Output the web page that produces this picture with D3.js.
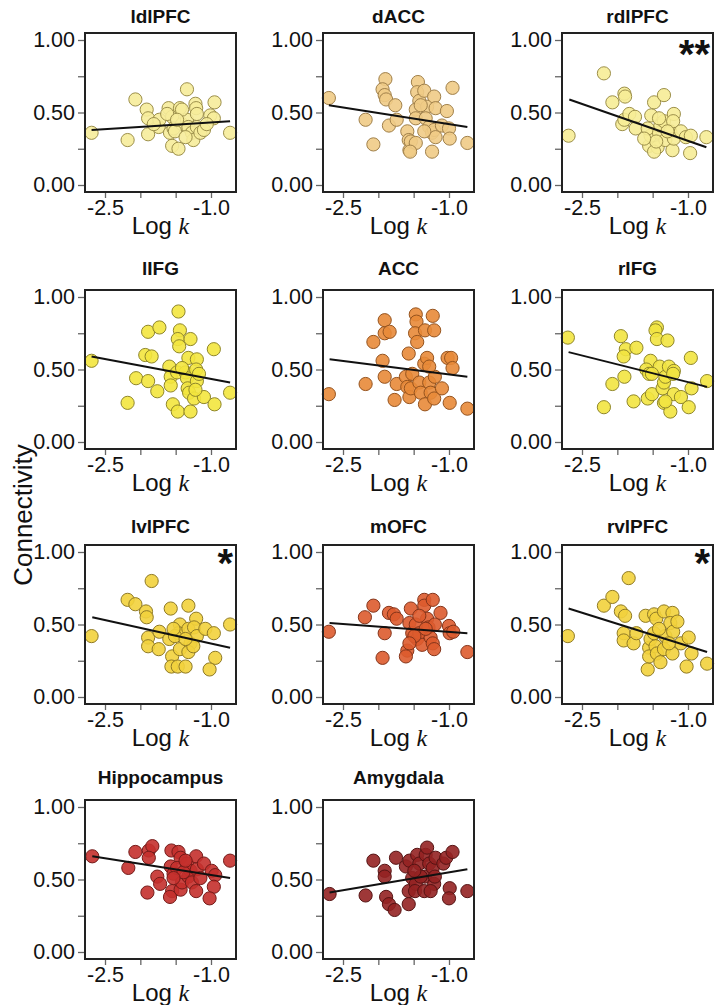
<!DOCTYPE html>
<html><head><meta charset="utf-8">
<script src="https://cdn.jsdelivr.net/npm/d3@7"></script>
<style>body{margin:0;background:#fff} svg{display:block}</style>
</head><body><svg id="c" width="717" height="1005"></svg>
<script>
// ---- data ----
const regionNames = ["ldlPFC","dACC","rdlPFC","lIFG","ACC","rIFG","lvlPFC","mOFC","rvlPFC","Hippocampus","Amygdala"];
const significance = ["","","**","","","","*","","*","",""];
const xTickValues = [-2.5,-2.0,-1.5,-1.0];
const xTickLabels = ["-2.5","","","-1.0"];
const yTickValues = [0,0.25,0.5,0.75,1];
const yTickLabels = ["0.00","","0.50","","1.00"];

const ldlPFC_x = [-2.69,-2.18,-2.07,-1.91,-1.89,-1.89,-1.74,-1.73,-1.60,-1.55,-1.58,-1.53,-1.55,-1.46,-1.44,-1.41,-1.51,-1.34,-1.34,-1.32,-1.27,-1.22,-1.21,-1.20,-1.25,-1.15,-1.10,-1.01,-0.95,-0.96,-0.73,-1.41,-1.62,-1.36,-1.81,-1.20,-1.06,-1.48];
const ldlPFC_y = [0.36,0.31,0.59,0.52,0.46,0.35,0.40,0.45,0.53,0.47,0.36,0.39,0.27,0.25,0.53,0.42,0.37,0.66,0.45,0.40,0.36,0.56,0.53,0.40,0.31,0.36,0.38,0.48,0.57,0.46,0.36,0.52,0.49,0.33,0.42,0.49,0.42,0.45];
const dACC_x = [-2.70,-2.18,-2.07,-1.90,-1.94,-1.91,-1.89,-1.76,-1.85,-1.74,-1.59,-1.57,-1.56,-1.54,-1.47,-1.44,-1.45,-1.42,-1.47,-1.47,-1.35,-1.31,-1.33,-1.28,-1.24,-1.21,-1.19,-1.24,-1.21,-1.19,-1.10,-1.03,-1.00,-0.99,-0.95,-0.74,-1.35,-1.55,-1.40];
const dACC_y = [0.60,0.45,0.28,0.73,0.66,0.62,0.59,0.55,0.41,0.45,0.37,0.31,0.24,0.30,0.29,0.71,0.64,0.58,0.52,0.46,0.65,0.54,0.46,0.40,0.36,0.61,0.53,0.23,0.38,0.33,0.41,0.51,0.39,0.32,0.67,0.29,0.37,0.23,0.55];
const rdlPFC_x = [-2.69,-2.19,-2.07,-1.90,-1.89,-1.93,-1.90,-1.83,-1.75,-1.74,-1.55,-1.53,-1.57,-1.52,-1.48,-1.43,-1.48,-1.41,-1.39,-1.34,-1.32,-1.25,-1.22,-1.20,-1.34,-1.20,-1.21,-1.10,-1.03,-0.97,-0.96,-0.74,-1.45,-1.29,-1.41,-1.62];
const rdlPFC_y = [0.34,0.77,0.57,0.63,0.61,0.42,0.45,0.49,0.47,0.39,0.27,0.34,0.39,0.48,0.57,0.26,0.23,0.36,0.41,0.44,0.31,0.37,0.24,0.32,0.62,0.49,0.44,0.37,0.33,0.22,0.34,0.33,0.30,0.37,0.46,0.32];
const lIFG_x = [-2.69,-2.18,-2.06,-1.89,-1.73,-1.93,-1.84,-1.89,-1.76,-1.59,-1.57,-1.57,-1.54,-1.46,-1.44,-1.47,-1.45,-1.48,-1.47,-1.36,-1.34,-1.33,-1.31,-1.29,-1.29,-1.32,-1.20,-1.21,-1.20,-1.24,-1.17,-1.10,-0.96,-0.95,-0.73,-1.41,-1.22];
const lIFG_y = [0.56,0.27,0.44,0.76,0.79,0.60,0.59,0.42,0.35,0.52,0.45,0.39,0.26,0.90,0.77,0.71,0.66,0.48,0.21,0.48,0.44,0.37,0.34,0.71,0.21,0.58,0.57,0.50,0.42,0.30,0.47,0.31,0.64,0.26,0.34,0.51,0.36];
const ACC_x = [-2.70,-2.18,-2.07,-1.94,-1.91,-1.91,-1.84,-1.91,-1.74,-1.77,-1.57,-1.61,-1.59,-1.56,-1.52,-1.54,-1.47,-1.46,-1.48,-1.45,-1.42,-1.40,-1.34,-1.35,-1.31,-1.28,-1.26,-1.34,-1.23,-1.21,-1.20,-1.21,-1.10,-1.02,-0.97,-0.95,-0.99,-0.74,-1.28];
const ACC_y = [0.33,0.40,0.69,0.56,0.84,0.75,0.76,0.45,0.40,0.29,0.61,0.45,0.38,0.31,0.47,0.37,0.88,0.83,0.75,0.69,0.41,0.34,0.77,0.54,0.58,0.41,0.34,0.26,0.87,0.77,0.45,0.30,0.37,0.58,0.58,0.51,0.27,0.23,0.52];
const rIFG_x = [-2.70,-2.19,-2.07,-1.95,-1.88,-1.91,-1.73,-1.90,-1.77,-1.57,-1.53,-1.59,-1.55,-1.51,-1.44,-1.46,-1.44,-1.40,-1.36,-1.34,-1.34,-1.29,-1.32,-1.27,-1.25,-1.20,-1.20,-1.10,-1.21,-0.96,-0.95,-0.99,-0.73,-1.51,-1.32];
const rIFG_y = [0.72,0.24,0.40,0.73,0.64,0.59,0.65,0.45,0.28,0.30,0.56,0.50,0.47,0.33,0.79,0.77,0.71,0.52,0.37,0.41,0.27,0.70,0.45,0.52,0.21,0.49,0.33,0.31,0.47,0.58,0.37,0.24,0.42,0.47,0.28];
const lvlPFC_x = [-2.69,-2.18,-2.07,-1.92,-1.91,-1.84,-1.89,-1.89,-1.74,-1.73,-1.57,-1.59,-1.55,-1.56,-1.47,-1.36,-1.44,-1.46,-1.44,-1.51,-1.32,-1.32,-1.29,-1.32,-1.21,-1.24,-1.20,-1.25,-1.08,-0.96,-0.94,-1.02,-0.73,-1.36,-1.53];
const lvlPFC_y = [0.42,0.67,0.64,0.59,0.55,0.80,0.41,0.35,0.33,0.45,0.61,0.40,0.28,0.21,0.21,0.21,0.50,0.44,0.33,0.42,0.63,0.47,0.37,0.31,0.54,0.48,0.42,0.35,0.47,0.44,0.27,0.19,0.50,0.40,0.47];
const mOFC_x = [-2.70,-2.19,-2.07,-1.85,-1.78,-1.74,-1.91,-1.94,-1.54,-1.56,-1.52,-1.59,-1.61,-1.47,-1.45,-1.42,-1.38,-1.35,-1.35,-1.31,-1.29,-1.26,-1.23,-1.20,-1.23,-1.21,-1.12,-1.00,-0.99,-0.94,-0.74,-1.49,-1.33,-1.56,-1.42];
const mOFC_y = [0.45,0.55,0.63,0.58,0.57,0.54,0.44,0.27,0.61,0.51,0.44,0.32,0.28,0.50,0.40,0.44,0.36,0.67,0.63,0.54,0.48,0.41,0.67,0.50,0.37,0.33,0.58,0.49,0.44,0.45,0.31,0.42,0.47,0.37,0.56];
const rvlPFC_x = [-2.70,-2.19,-2.07,-1.95,-1.89,-1.84,-1.91,-1.91,-1.77,-1.73,-1.60,-1.55,-1.53,-1.57,-1.55,-1.48,-1.45,-1.46,-1.44,-1.48,-1.39,-1.34,-1.32,-1.34,-1.22,-1.25,-1.21,-1.22,-1.10,-0.99,-0.95,-1.02,-0.73,-1.27,-1.41,-1.15];
const rvlPFC_y = [0.42,0.63,0.69,0.59,0.56,0.82,0.44,0.39,0.37,0.44,0.56,0.34,0.40,0.19,0.28,0.57,0.54,0.35,0.30,0.44,0.24,0.59,0.42,0.33,0.58,0.51,0.45,0.30,0.37,0.41,0.30,0.21,0.23,0.37,0.47,0.52];
const hippocampus_x = [-2.68,-2.17,-2.07,-1.88,-1.83,-1.88,-1.90,-1.76,-1.72,-1.56,-1.57,-1.53,-1.55,-1.58,-1.46,-1.43,-1.48,-1.43,-1.41,-1.34,-1.32,-1.29,-1.21,-1.20,-1.27,-1.21,-1.10,-0.99,-0.94,-0.96,-1.02,-0.73,-1.39,-1.53,-1.15,-1.36];
const hippocampus_y = [0.66,0.58,0.69,0.70,0.73,0.65,0.41,0.52,0.47,0.70,0.59,0.54,0.42,0.38,0.69,0.65,0.58,0.43,0.48,0.61,0.52,0.56,0.66,0.57,0.48,0.42,0.61,0.56,0.53,0.45,0.37,0.63,0.55,0.51,0.51,0.63];
const amygdala_x = [-2.69,-2.18,-2.07,-1.91,-1.91,-1.89,-1.85,-1.77,-1.75,-1.61,-1.56,-1.52,-1.57,-1.57,-1.47,-1.45,-1.42,-1.48,-1.35,-1.33,-1.31,-1.28,-1.34,-1.23,-1.21,-1.19,-1.20,-1.08,-1.04,-0.95,-0.99,-1.00,-0.74,-1.26,-1.40,-1.49];
const amygdala_y = [0.40,0.39,0.63,0.56,0.52,0.38,0.33,0.29,0.65,0.59,0.63,0.51,0.42,0.33,0.47,0.67,0.61,0.42,0.42,0.67,0.72,0.61,0.52,0.58,0.47,0.65,0.52,0.61,0.65,0.69,0.44,0.37,0.42,0.42,0.52,0.56];

// fitted regression line end points
const fitX0 = [-2.69,-2.70,-2.68,-2.69,-2.69,-2.69,-2.68,-2.69,-2.69,-2.68,-2.69];
const fitY0 = [0.38,0.55,0.59,0.59,0.57,0.62,0.55,0.51,0.61,0.66,0.41];
const fitX1 = [-0.73,-0.74,-0.74,-0.73,-0.74,-0.73,-0.73,-0.74,-0.73,-0.73,-0.74];
const fitY1 = [0.44,0.40,0.26,0.41,0.45,0.38,0.34,0.44,0.31,0.51,0.57];

// ---- styles ----
const fillColors = ["#f6ec9a","#f0cb86","#f6ec96","#f3e53e","#e88a38","#f2e440","#f2d23c","#dd5b2e","#f2d23c","#c4302c","#942222"];
const strokeColors = ["#9c8f4a","#a0804a","#9c8f4a","#8f862a","#95531e","#8f862a","#8f7a26","#84341a","#8f7a26","#741b19","#551313"];

const xs = [ldlPFC_x,dACC_x,rdlPFC_x,lIFG_x,ACC_x,rIFG_x,lvlPFC_x,mOFC_x,rvlPFC_x,hippocampus_x,amygdala_x];
const ys = [ldlPFC_y,dACC_y,rdlPFC_y,lIFG_y,ACC_y,rIFG_y,lvlPFC_y,mOFC_y,rvlPFC_y,hippocampus_y,amygdala_y];

const panels = regionNames.map((name,i)=>({
  name, sig: significance[i],
  points: xs[i].map((x,j)=>({x, y: ys[i][j]})),
  fit: [{x:fitX0[i], y:fitY0[i]},{x:fitX1[i], y:fitY1[i]}]
}));

// ---- layout ----
const colLeft = [85, 323, 562];
const rowTop = [33, 290, 545, 800];
const titleOff = [10, 15, 12, 16];
const W = 151, H = 159;
const FONT = "'Liberation Sans', Arial, Helvetica, sans-serif";

const x = d3.scaleLinear().domain([-2.5,-1.0]).range([20,126]);
const y = d3.scaleLinear().domain([0,1]).range([152,7]);

const svg = d3.select("#c");

panels.forEach((p,i)=>{
  const r = Math.floor(i/3), c = i%3;
  const g = svg.append("g").attr("transform",`translate(${colLeft[c]},${rowTop[r]})`);

  const ya = g.append("g").call(d3.axisLeft(y).tickValues(yTickValues)
      .tickFormat((d,k)=>yTickLabels[k]).tickSize(7).tickPadding(3));
  const xa = g.append("g").attr("transform",`translate(0,${H})`)
      .call(d3.axisBottom(x).tickValues(xTickValues)
      .tickFormat((d,k)=>xTickLabels[k]).tickSize(6).tickPadding(2));
  [ya,xa].forEach(a=>{
    a.select(".domain").remove();
    a.selectAll("line").attr("stroke","#666").attr("stroke-width",1.3);
    a.selectAll("text").attr("fill","#111").style("font-family",FONT).style("font-size","21.5px");
  });

  g.append("g").selectAll("circle").data(p.points).join("circle")
    .attr("cx",d=>x(d.x)).attr("cy",d=>y(d.y)).attr("r",6.6)
    .attr("fill",fillColors[i]).attr("fill-opacity",0.9)
    .attr("stroke",strokeColors[i]).attr("stroke-width",1);

  g.append("path").datum(p.fit)
    .attr("d",d3.line().x(d=>x(d.x)).y(d=>y(d.y)))
    .attr("stroke","#111").attr("stroke-width",2).attr("fill","none");

  g.append("rect").attr("x",0).attr("y",0).attr("width",W).attr("height",H)
    .attr("fill","none").attr("stroke","#222").attr("stroke-width",2);

  g.append("text").attr("x",W/2).attr("y",-titleOff[r]).attr("text-anchor","middle")
    .style("font-family",FONT).style("font-size","19px").style("font-weight","bold")
    .attr("fill","#111").text(p.name);

  const xl = g.append("text").attr("x",W/2).attr("y",H+42).attr("text-anchor","middle")
    .style("font-family",FONT).style("font-size","24px").attr("fill","#111");
  xl.append("tspan").text("Log ");
  xl.append("tspan").style("font-family","'Liberation Serif','Times New Roman',serif")
    .style("font-style","italic").text("k");

  if (p.sig) {
    g.append("text").attr("x",W-3).attr("y",p.sig.length>1 ? 35 : 32).attr("text-anchor","end")
      .style("font-family",FONT).style("font-size","40px").style("font-weight","bold")
      .attr("fill","#111").text(p.sig);
  }
});

svg.append("text").attr("transform","translate(32,515) rotate(-90)")
  .attr("text-anchor","middle").style("font-family",FONT).style("font-size","26px")
  .attr("fill","#111").text("Connectivity");
</script>
</body></html>
